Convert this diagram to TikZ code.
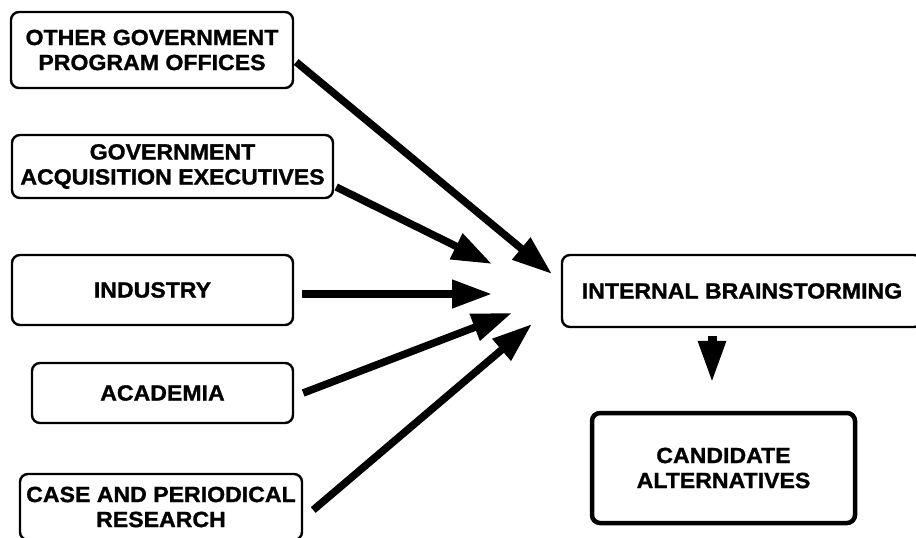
\documentclass[tikz,border=0pt]{standalone}
\usepackage{fontspec}
\setmainfont{Liberation Sans}[FakeStretch=1.05, BoldFeatures={FakeBold=1.2}]
\usetikzlibrary{arrows.meta}
\begin{document}
\begin{tikzpicture}[x=1pt,y=-1pt,
  box/.style={draw, line width=2.4pt, rounded corners=8pt, align=center, inner sep=0pt,
    font=\fontsize{22}{25}\selectfont\bfseries},
  arr/.style={line width=7.5pt, -{Triangle[length=40pt,width=27pt]}}]
\useasboundingbox (0,0) rectangle (916,538);
\clip (0,0) rectangle (916,538);
\node[box, minimum width=282pt, minimum height=76pt] (b1) at (152,50)
  {\fontsize{22}{23}\selectfont OTHER GOVERNMENT\\PROGRAM OFFICES};
\node[box, minimum width=321pt, minimum height=63pt] (b2) at (172.5,166.5)
  {\fontsize{22}{27}\selectfont GOVERNMENT\\ACQUISITION EXECUTIVES};
\node[box, minimum width=281pt, minimum height=70pt] (b3) at (152.5,290) {INDUSTRY};
\node[box, minimum width=261pt, minimum height=60pt] (b4) at (162.5,393) {ACADEMIA};
\node[box, minimum width=282pt, minimum height=66pt] (b5) at (161,507)
  {\fontsize{22}{28}\selectfont CASE AND PERIODICAL\\RESEARCH};
\node[box, minimum width=360pt, minimum height=72pt] (ib) at (742,291) {INTERNAL BRAINSTORMING};
\node[box, line width=4.5pt, minimum width=263pt, minimum height=110pt] (ca) at (723.5,468)
  {\fontsize{22}{24}\selectfont CANDIDATE\\ALTERNATIVES};
\coordinate (t1) at (552,274);
\coordinate (t2) at (492,264);
\coordinate (t3) at (492,294);
\coordinate (t4) at (512,313);
\coordinate (t5) at (532,324);
\draw[arr] ([shift={(2,12)}]b1.east) -- (t1);
\draw[arr] ([shift={(2,20.5)}]b2.east) -- (t2);
\draw[arr] ([shift={(8,4)}]b3.east) -- (t3);
\draw[arr] ([shift={(9,0)}]b4.east) -- (t4);
\draw[arr] ([shift={(10,3)}]b5.east) -- (t5);
\draw[line width=9pt, -{Triangle[length=42pt,width=26pt]}]
  ([shift={(-30,8)}]ib.south) -- ([shift={(-11.5,-28)}]ca.north);
\end{tikzpicture}
\end{document}
